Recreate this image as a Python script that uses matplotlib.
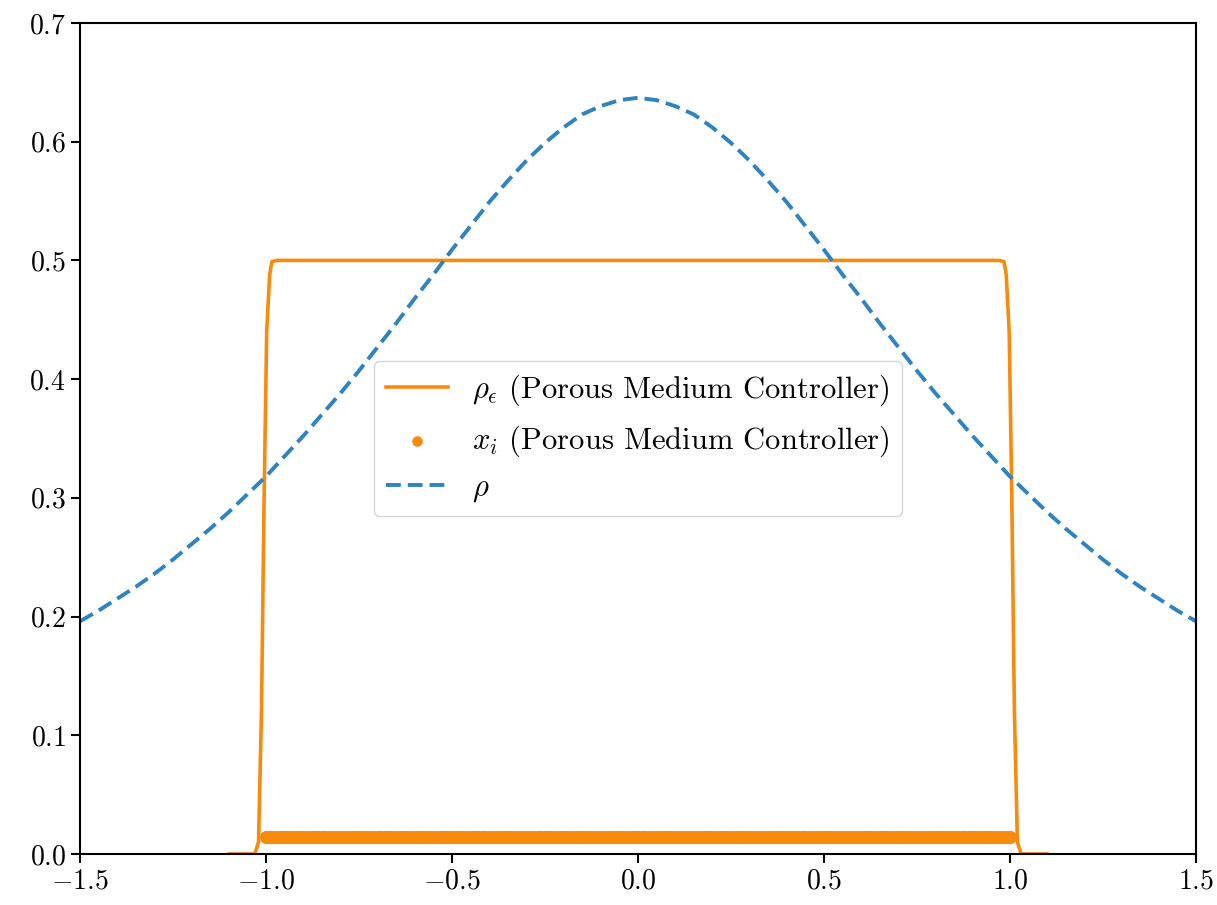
import matplotlib
matplotlib.use("Agg")
import matplotlib.pyplot as plt

plt.rcParams['font.family'] = ['cmr10', 'DejaVu Serif']
plt.rcParams['mathtext.fontset'] = 'cm'
plt.rcParams['axes.formatter.use_mathtext'] = True
plt.rcParams['axes.unicode_minus'] = True

# Target density rho
rho_x = [-1.5, -1.45, -1.4, -1.35, -1.3, -1.25, -1.2, -1.15, -1.1, -1.05, -1.0,
         -0.95, -0.9, -0.85, -0.8, -0.75, -0.7, -0.65, -0.6, -0.55, -0.5,
         -0.45, -0.4, -0.35, -0.3, -0.25, -0.2, -0.15, -0.1, -0.05, 0.0,
         0.05, 0.1, 0.15, 0.2, 0.25, 0.3, 0.35, 0.4, 0.45, 0.5,
         0.55, 0.6, 0.65, 0.7, 0.75, 0.8, 0.85, 0.9, 0.95, 1.0,
         1.05, 1.1, 1.15, 1.2, 1.25, 1.3, 1.35, 1.4, 1.45, 1.5]
rho_y = [0.196, 0.205, 0.215, 0.225, 0.236, 0.248, 0.261, 0.274, 0.288, 0.303, 0.318,
         0.335, 0.352, 0.370, 0.388, 0.407, 0.427, 0.447, 0.468, 0.488, 0.509,
         0.529, 0.549, 0.567, 0.584, 0.599, 0.612, 0.623, 0.630, 0.635, 0.637,
         0.635, 0.630, 0.623, 0.612, 0.599, 0.584, 0.567, 0.549, 0.529, 0.509,
         0.488, 0.468, 0.447, 0.427, 0.407, 0.388, 0.370, 0.352, 0.335, 0.318,
         0.303, 0.288, 0.274, 0.261, 0.248, 0.236, 0.225, 0.215, 0.205, 0.196]

# Regularised particle density rho_eps
eps_x = [-1.1, -1.03, -1.02, -1.012, -1.005, -0.998, -0.99, -0.984, -0.97, 0.0,
         0.97, 0.984, 0.99, 0.998, 1.005, 1.012, 1.02, 1.03, 1.1]
eps_y = [0.0, 0.0, 0.01, 0.12, 0.30, 0.44, 0.488, 0.499, 0.5, 0.5,
         0.5, 0.499, 0.488, 0.44, 0.30, 0.12, 0.01, 0.0, 0.0]

# Particle positions x_i
part_x = [-1.0, -0.99, -0.98, -0.97, -0.96, -0.95, -0.94, -0.93, -0.92, -0.91,
          -0.9, -0.89, -0.88, -0.87, -0.86, -0.85, -0.84, -0.83, -0.82, -0.81,
          -0.8, -0.79, -0.78, -0.77, -0.76, -0.75, -0.74, -0.73, -0.72, -0.71,
          -0.7, -0.69, -0.68, -0.67, -0.66, -0.65, -0.64, -0.63, -0.62, -0.61,
          -0.6, -0.59, -0.58, -0.57, -0.56, -0.55, -0.54, -0.53, -0.52, -0.51,
          -0.5, -0.49, -0.48, -0.47, -0.46, -0.45, -0.44, -0.43, -0.42, -0.41,
          -0.4, -0.39, -0.38, -0.37, -0.36, -0.35, -0.34, -0.33, -0.32, -0.31,
          -0.3, -0.29, -0.28, -0.27, -0.26, -0.25, -0.24, -0.23, -0.22, -0.21,
          -0.2, -0.19, -0.18, -0.17, -0.16, -0.15, -0.14, -0.13, -0.12, -0.11,
          -0.1, -0.09, -0.08, -0.07, -0.06, -0.05, -0.04, -0.03, -0.02, -0.01,
          0.0, 0.01, 0.02, 0.03, 0.04, 0.05, 0.06, 0.07, 0.08, 0.09,
          0.1, 0.11, 0.12, 0.13, 0.14, 0.15, 0.16, 0.17, 0.18, 0.19,
          0.2, 0.21, 0.22, 0.23, 0.24, 0.25, 0.26, 0.27, 0.28, 0.29,
          0.3, 0.31, 0.32, 0.33, 0.34, 0.35, 0.36, 0.37, 0.38, 0.39,
          0.4, 0.41, 0.42, 0.43, 0.44, 0.45, 0.46, 0.47, 0.48, 0.49,
          0.5, 0.51, 0.52, 0.53, 0.54, 0.55, 0.56, 0.57, 0.58, 0.59,
          0.6, 0.61, 0.62, 0.63, 0.64, 0.65, 0.66, 0.67, 0.68, 0.69,
          0.7, 0.71, 0.72, 0.73, 0.74, 0.75, 0.76, 0.77, 0.78, 0.79,
          0.8, 0.81, 0.82, 0.83, 0.84, 0.85, 0.86, 0.87, 0.88, 0.89,
          0.9, 0.91, 0.92, 0.93, 0.94, 0.95, 0.96, 0.97, 0.98, 0.99, 1.0]
part_y = [0.0145] * len(part_x)

orange = '#F98B0C'
blue = '#3083C2'

fig = plt.figure(figsize=(12.17, 9.05), dpi=100)
ax = fig.add_axes([0.0657, 0.0564, 0.9170, 0.9182])

ax.plot(eps_x, eps_y, color=orange, lw=2.6, label=r'$\rho_\epsilon$ (Porous Medium Controller)')
ax.scatter(part_x, part_y, color=orange, s=90, lw=0, label=r'$x_i$ (Porous Medium Controller)')
ax.plot(rho_x, rho_y, color=blue, lw=2.8, ls='--', dashes=(3.8, 1.8), label=r'$\rho$')

ax.set_xlim(-1.5, 1.5)
ax.set_ylim(0, 0.7)
ax.set_xticks([-1.5, -1.0, -0.5, 0.0, 0.5, 1.0, 1.5])
ax.set_yticks([0.0, 0.1, 0.2, 0.3, 0.4, 0.5, 0.6, 0.7])
ax.tick_params(labelsize=20, width=1.5, length=6.5)
for s in ax.spines.values():
    s.set_linewidth(1.5)

ax.legend(loc='center', fontsize=22, markerscale=0.8, handlelength=2.0)

fig.savefig('out.png', dpi=100)
